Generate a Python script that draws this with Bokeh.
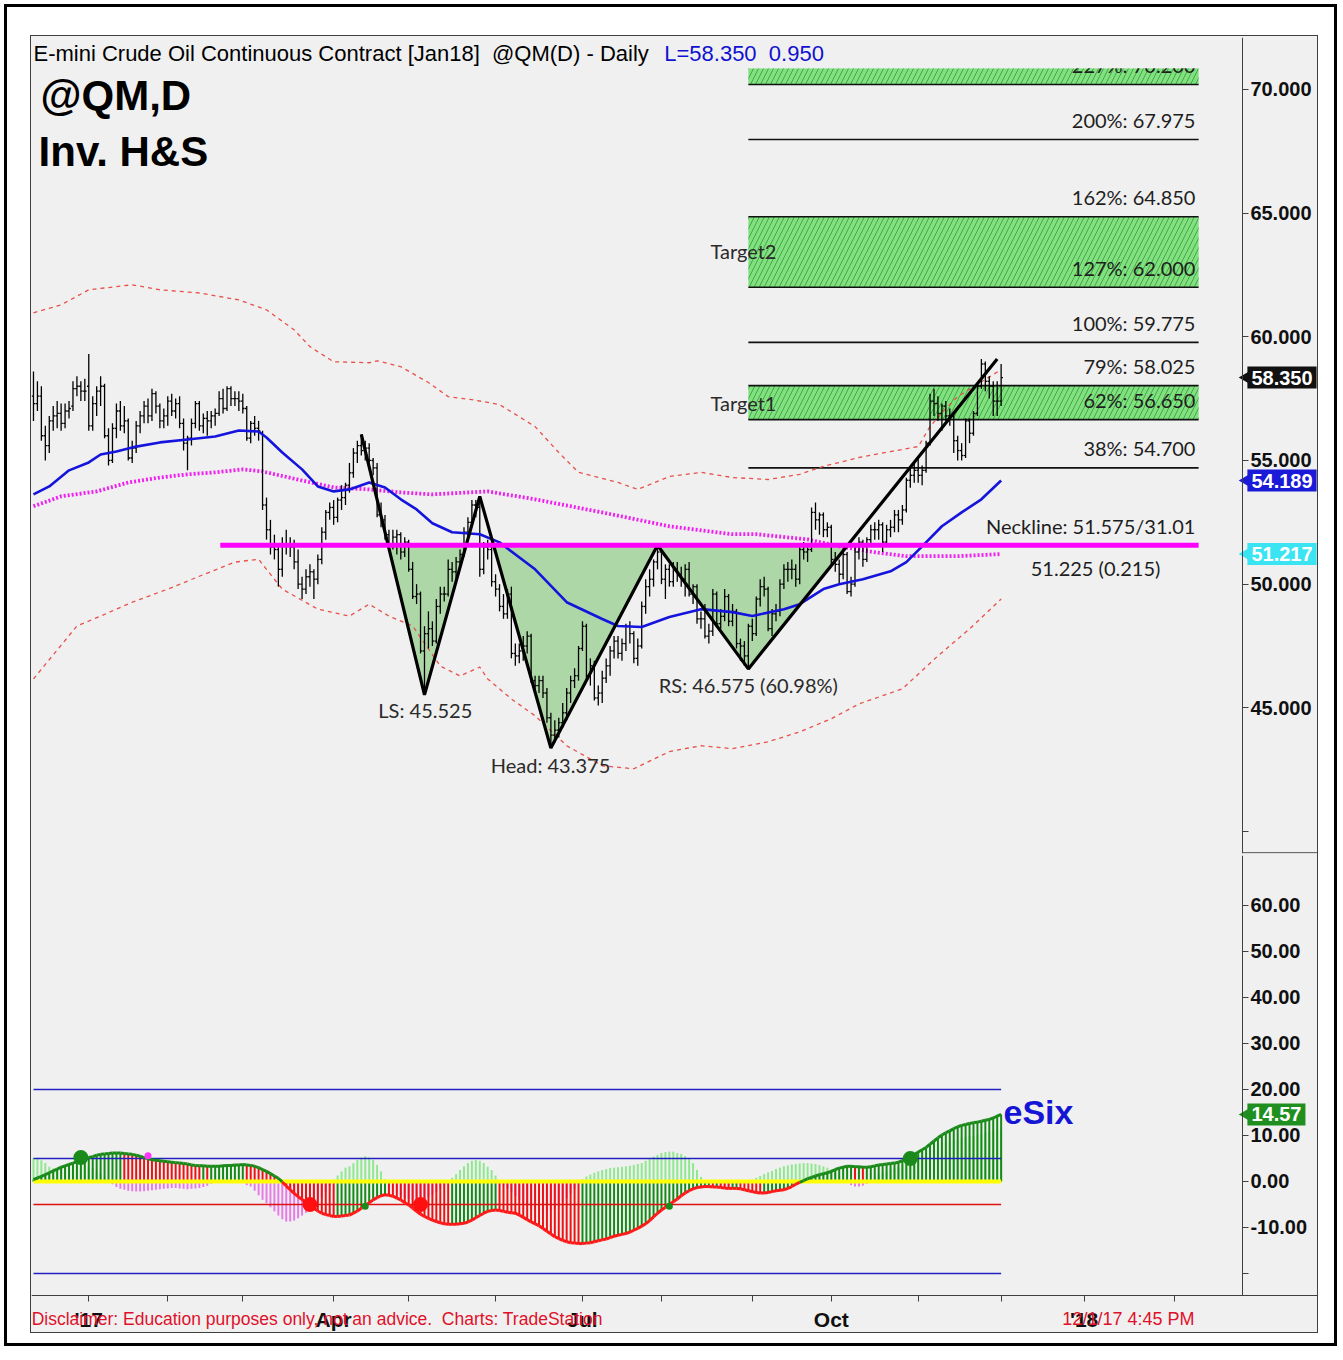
import math
from bokeh.plotting import figure
from bokeh.layouts import column
from bokeh.models import Range1d, FixedTicker, NumeralTickFormatter, Label, ColumnDataSource
from bokeh.core.properties import value
from bokeh.embed import file_html
from bokeh.resources import INLINE

# ---------------- data ----------------
# month starts as trading-bar index (bar 0 = 12 Dec 2016)
month_idx = [14, 34, 53, 76, 95, 117, 139, 159, 182, 202, 224, 245, 266, 289]
month_lbl = ["'17", "", "", "Apr", "", "", "Jul", "", "", "Oct", "", "", "'18", ""]

open_ = [57.6, 57.3, 57.6, 56.0, 55.6, 56.6, 56.8, 56.9, 56.5, 57.0, 57.2, 57.9, 58.0, 57.8,
         58.0, 56.4, 57.3, 57.8, 58.0, 56.0, 55.0, 56.3, 57.0, 56.4, 56.6, 55.1, 55.5, 56.4, 56.8, 57.2, 56.8, 57.7, 57.2, 56.6,
         56.8, 57.4, 57.0, 57.3, 56.5, 55.7, 55.9, 56.5, 57.3, 56.4, 56.7, 56.6, 56.8, 56.9, 57.5, 57.1, 57.9, 57.5, 57.5,
         57.4, 57.1, 55.9, 56.5, 56.3, 56.1, 53.2, 52.2, 51.5, 51.4, 50.6, 51.6, 51.6, 51.5, 50.9, 50.0, 49.8, 50.3, 50.5, 50.2, 51.0, 52.1, 52.9,
         53.1, 52.7, 53.4, 53.5, 54.0, 54.5, 55.3, 55.6, 55.4, 55.5, 55.0, 54.7, 52.8, 52.6, 52.0, 51.6, 51.9, 52.0, 51.3,
         51.7, 50.6, 49.5, 49.6, 47.3, 48.0, 48.2, 47.7, 49.1, 49.6, 49.6, 50.6, 50.5, 50.9, 51.2, 52.1, 52.5, 53.2, 53.1, 50.6, 51.5, 51.4,
         50.1, 49.8, 49.1, 48.8, 49.6, 47.2, 47.1, 47.3, 47.5, 47.9, 46.1, 45.9, 46.1, 45.6, 44.6, 43.9, 44.1, 44.4, 44.8, 45.6, 46.1, 46.3,
         47.4, 48.3, 46.3, 46.7, 45.4, 45.6, 46.2, 46.7, 47.3, 47.7, 47.2, 47.6, 48.3, 48.0, 47.0, 47.5, 49.1, 49.9, 50.2, 50.9,
         51.3, 50.2, 50.6, 50.1, 50.6, 50.4, 50.2, 50.6, 49.6, 49.9, 48.6, 48.6, 47.9, 48.1, 49.6, 48.4, 48.7, 49.5, 48.5, 48.9, 47.6, 47.5, 47.1,
         48.3, 48.0, 49.4, 49.9, 49.8, 48.2, 48.8, 48.9, 50.0, 50.6, 50.6, 50.6, 50.2, 51.4, 51.3, 51.4, 52.9, 52.6, 52.8, 52.2,
         52.3, 51.0, 50.8, 50.4, 51.2, 49.7, 50.0, 51.3, 51.7, 51.0, 51.8, 52.2, 52.2, 52.4, 51.7, 52.2, 52.3, 52.8, 52.6, 53.0, 54.2, 54.4,
         54.6, 54.4, 54.6, 55.7, 57.4, 57.3, 56.9, 57.2, 56.8, 56.8, 55.8, 55.4, 55.2, 56.6, 56.1, 56.9, 58.0, 58.9, 58.2, 58.0, 57.4,
         57.4]
high = [58.6, 58.2, 58.0, 56.4, 56.8, 57.2, 57.4, 57.3, 57.3, 57.4, 58.2, 58.4, 58.2, 58.3,
        59.3, 57.6, 58.0, 58.4, 58.1, 56.3, 56.5, 57.3, 57.4, 57.2, 56.7, 55.8, 56.6, 57.0, 57.4, 57.5, 57.9, 57.8, 57.3, 57.1,
        57.6, 57.7, 57.5, 57.6, 56.7, 56.0, 56.7, 57.4, 57.4, 56.9, 57.0, 57.0, 57.1, 57.8, 57.9, 58.0, 58.0, 57.8, 57.8,
        57.7, 57.2, 56.6, 56.8, 56.6, 56.2, 53.5, 52.6, 52.0, 51.6, 51.9, 52.2, 51.9, 51.8, 51.4, 50.3, 50.6, 50.8, 50.6, 51.2, 52.3, 53.0, 53.3,
        53.4, 53.5, 54.0, 54.1, 54.9, 55.5, 55.8, 56.05, 55.8, 55.7, 55.1, 54.9, 53.3, 52.8, 52.2, 52.2, 52.2, 52.1, 51.9,
        51.8, 50.9, 50.0, 49.7, 48.3, 48.9, 48.5, 49.4, 49.9, 49.9, 51.0, 50.9, 51.1, 51.4, 52.3, 52.7, 53.4, 53.4, 53.55, 51.7, 51.8, 51.5,
        50.4, 50.0, 49.6, 49.8, 49.9, 47.6, 47.6, 47.9, 48.1, 48.0, 46.3, 46.3, 46.3, 45.8, 44.8, 44.5, 44.6, 45.2, 45.8, 46.3, 46.6, 47.5,
        48.5, 48.4, 47.0, 46.9, 45.9, 46.5, 47.0, 47.5, 47.9, 47.9, 47.8, 48.4, 48.5, 48.1, 47.8, 49.3, 50.2, 50.6, 51.0, 51.575,
        51.4, 50.8, 50.8, 50.9, 50.9, 50.7, 50.8, 50.9, 50.0, 50.0, 48.9, 49.2, 48.4, 49.8, 49.7, 49.0, 49.8, 49.6, 49.2, 49.0, 47.8, 47.7, 48.4,
        48.6, 49.5, 50.2, 50.3, 49.9, 49.0, 49.2, 50.2, 50.8, 50.9, 51.0, 50.8, 51.6, 51.7, 51.6, 53.1, 53.3, 52.9, 52.9, 52.5,
        52.4, 51.3, 51.0, 51.4, 51.3, 50.3, 51.5, 51.9, 51.8, 51.9, 52.4, 52.5, 52.6, 52.5, 52.4, 52.6, 53.0, 53.0, 53.2, 54.3, 54.7, 54.9,
        55.1, 54.8, 55.8, 57.7, 57.9, 57.6, 57.3, 57.4, 57.1, 56.9, 56.0, 55.7, 56.7, 56.7, 57.0, 58.1, 59.1, 59.0, 58.4, 58.2, 58.2,
        58.9]
low = [56.6, 57.0, 55.8, 55.0, 55.3, 56.2, 56.3, 56.2, 56.3, 56.7, 57.0, 57.6, 57.4, 57.4,
       56.2, 56.2, 56.8, 57.2, 55.9, 54.8, 54.9, 55.9, 56.2, 56.1, 55.0, 54.9, 55.3, 56.1, 56.5, 56.5, 56.6, 56.9, 56.3, 56.3,
       56.4, 56.8, 56.7, 56.3, 55.4, 54.6, 55.6, 56.3, 56.2, 56.1, 56.0, 56.3, 56.4, 56.8, 56.9, 57.0, 57.2, 57.2, 57.0,
       56.9, 55.8, 55.7, 56.0, 55.8, 53.0, 51.8, 51.2, 51.0, 49.9, 50.3, 51.2, 51.1, 50.6, 49.8, 49.4, 49.6, 49.9, 49.4, 50.0, 50.8, 51.8, 52.6,
       52.4, 52.5, 53.0, 53.2, 53.7, 54.3, 54.9, 55.2, 55.0, 54.8, 54.4, 52.7, 52.3, 51.8, 51.4, 51.4, 51.2, 51.0, 51.1,
       50.5, 49.4, 49.2, 47.2, 45.525, 47.4, 47.5, 47.6, 48.8, 49.3, 49.5, 50.1, 50.2, 50.6, 51.1, 51.9, 52.3, 52.7, 50.3, 50.4, 51.0, 49.9,
       49.5, 48.9, 48.6, 48.6, 47.0, 46.7, 46.8, 46.9, 47.2, 46.0, 45.6, 45.6, 45.4, 44.4, 43.375, 43.6, 43.8, 44.2, 44.5, 45.2, 45.8, 46.1,
       47.3, 46.1, 45.9, 45.3, 45.1, 45.2, 46.0, 46.3, 47.0, 47.0, 46.9, 47.3, 47.6, 46.8, 46.7, 47.4, 48.8, 49.5, 49.9, 50.6,
       50.0, 49.4, 49.9, 49.9, 50.1, 49.9, 49.5, 49.5, 49.2, 48.4, 48.2, 47.8, 47.6, 47.9, 48.3, 48.2, 48.5, 48.3, 48.3, 47.4, 46.9, 46.7, 46.575,
       47.7, 47.9, 49.1, 49.5, 48.1, 47.9, 48.5, 48.7, 49.8, 50.1, 50.2, 49.9, 50.0, 51.0, 50.9, 51.3, 52.2, 52.0, 51.9, 51.9,
       50.8, 50.5, 50.0, 50.2, 49.6, 49.5, 49.9, 51.0, 50.7, 50.9, 51.6, 51.8, 51.8, 51.3, 51.5, 51.9, 52.1, 52.1, 52.4, 52.9, 53.9, 54.1,
       54.1, 54.0, 54.5, 55.6, 56.8, 56.6, 56.2, 56.6, 56.4, 55.3, 55.0, 55.0, 55.1, 55.7, 56.0, 56.8, 57.9, 57.8, 57.5, 56.8, 56.8,
       57.2]
close = [57.3, 57.6, 56.0, 55.6, 56.6, 56.8, 56.9, 56.5, 57.0, 57.1, 57.9, 58.0, 57.8, 57.8,
         56.4, 57.3, 57.8, 58.0, 56.0, 55.0, 56.3, 57.0, 56.4, 56.6, 55.1, 55.5, 56.4, 56.8, 57.2, 56.8, 57.7, 57.2, 56.6, 56.8,
         57.4, 57.0, 57.3, 56.5, 55.7, 55.9, 56.5, 57.3, 56.4, 56.7, 56.6, 56.8, 56.9, 57.5, 57.1, 57.9, 57.5, 57.5, 57.4,
         57.1, 55.9, 56.5, 56.3, 56.2, 53.2, 52.2, 51.5, 51.4, 50.6, 51.6, 51.6, 51.5, 50.9, 50.0, 49.8, 50.3, 50.5, 50.2, 51.0, 52.1, 52.9, 53.1,
         52.7, 53.4, 53.5, 54.0, 54.5, 55.3, 55.6, 55.4, 55.5, 55.0, 54.7, 52.8, 52.6, 52.0, 51.6, 51.9, 52.0, 51.3, 51.7,
         50.6, 49.5, 49.6, 47.3, 48.0, 48.2, 47.7, 49.1, 49.6, 49.6, 50.6, 50.5, 50.9, 51.2, 52.1, 52.5, 53.2, 53.1, 50.6, 51.5, 51.4, 50.1,
         49.8, 49.1, 48.8, 49.6, 47.2, 47.1, 47.3, 47.5, 47.9, 46.1, 45.9, 46.1, 45.6, 44.6, 43.9, 44.1, 44.4, 44.8, 45.6, 46.1, 46.3, 47.4,
         48.3, 46.3, 46.7, 45.4, 45.6, 46.2, 46.7, 47.3, 47.7, 47.2, 47.6, 48.3, 48.0, 47.0, 47.5, 49.1, 49.9, 50.2, 50.9, 51.3,
         50.2, 50.6, 50.1, 50.6, 50.4, 50.2, 50.6, 49.6, 49.9, 48.6, 48.6, 47.9, 48.1, 49.6, 48.4, 48.7, 49.5, 48.5, 48.9, 47.6, 47.5, 47.1, 48.3,
         48.0, 49.4, 49.9, 49.8, 48.2, 48.8, 48.9, 50.0, 50.6, 50.6, 50.6, 50.2, 51.4, 51.3, 51.4, 52.9, 52.6, 52.8, 52.2, 52.3,
         51.0, 50.8, 50.4, 51.2, 49.7, 50.0, 51.3, 51.7, 51.0, 51.8, 52.2, 52.2, 52.4, 51.7, 52.2, 52.3, 52.8, 52.6, 53.0, 54.2, 54.4, 54.6,
         54.4, 54.6, 55.7, 57.4, 57.3, 56.9, 57.2, 56.8, 56.8, 55.8, 55.4, 55.2, 56.6, 56.1, 56.9, 58.0, 58.9, 58.2, 58.0, 57.4, 57.4,
         58.35]

# moving averages / envelopes (bar index, price)
ma_fast_x = [0, 4, 9, 14, 17, 21, 26, 32, 39, 46, 52, 57, 59, 63, 68, 72, 76, 80, 85, 89, 93, 97, 101, 106, 113, 118, 127, 135, 144, 148, 154, 161, 169, 177, 182, 190, 194, 200, 204, 210, 217, 221, 225, 230, 235, 240, 245]
ma_fast_y = [53.63, 53.95, 54.60, 54.92, 55.24, 55.36, 55.56, 55.73, 55.85, 55.97, 56.21, 56.17, 55.93, 55.32, 54.64, 53.95, 53.75, 53.83, 54.11, 53.91, 53.43, 53.02, 52.46, 52.10, 52.02, 51.69, 50.60, 49.27, 48.59, 48.31, 48.27, 48.67, 48.99, 48.87, 48.71, 48.99, 49.19, 49.80, 50.00, 50.20, 50.52, 50.89, 51.53, 52.34, 52.90, 53.43, 54.189]
ma_slow_x = [0, 7, 16, 24, 32, 39, 46, 53, 58, 59, 68, 76, 85, 93, 101, 115, 127, 144, 161, 177, 183, 196, 204, 213, 221, 234, 245]
ma_slow_y = [53.15, 53.55, 53.75, 54.11, 54.31, 54.44, 54.52, 54.64, 54.56, 54.52, 54.19, 53.91, 53.83, 53.71, 53.63, 53.75, 53.43, 52.90, 52.34, 52.02, 52.02, 51.81, 51.53, 51.29, 51.13, 51.13, 51.217]
upper_x = [0, 7, 14, 25, 32, 42, 52, 59, 66, 70, 76, 85, 87, 93, 100, 105, 111, 118, 127, 133, 138, 148, 153, 161, 169, 177, 186, 194, 200, 209, 217, 224, 227, 230, 234, 238, 245]
upper_y = [60.97, 61.29, 61.90, 62.10, 61.90, 61.77, 61.49, 61.09, 60.28, 59.60, 58.99, 58.95, 59.03, 58.79, 58.15, 57.58, 57.46, 57.26, 56.37, 55.32, 54.52, 54.11, 53.83, 54.35, 54.52, 54.31, 54.23, 54.44, 54.76, 55.12, 55.36, 55.56, 56.37, 56.94, 57.58, 57.98, 58.67]
lower_x = [0, 11, 17, 25, 34, 42, 51, 57, 59, 63, 72, 80, 85, 90, 96, 103, 108, 113, 115, 121, 127, 135, 144, 152, 161, 169, 177, 186, 194, 202, 209, 220, 229, 237, 245]
lower_y = [46.17, 48.31, 48.71, 49.27, 49.80, 50.32, 50.89, 51.01, 50.60, 49.80, 48.99, 48.71, 49.19, 48.71, 48.31, 46.69, 46.29, 46.65, 46.17, 45.36, 44.68, 43.47, 42.66, 42.54, 43.23, 43.47, 43.35, 43.63, 44.03, 44.56, 45.16, 45.77, 47.10, 48.19, 49.40]

# inverse head & shoulders pivots
hs_x = [83, 99, 113, 131, 158, 181, 244]
hs_y = [56.05, 45.525, 53.55, 43.375, 51.575, 46.575, 59.1]
neckline = 51.575

# Fibonacci projection levels
fib_levels = [70.2, 67.975, 64.85, 62.0, 59.775, 58.025, 56.65, 54.7]
fib_texts = ["227%: 70.200", "200%: 67.975", "162%: 64.850", "127%: 62.000",
             "100%: 59.775", "79%: 58.025", "62%: 56.650", "38%: 54.700"]
target_lo = [70.2, 62.0, 56.65]
target_hi = [70.85, 64.85, 58.025]

# last values shown on the price scale
last_vals = [58.35, 54.189, 51.217]
last_txt = ["58.350", "54.189", "51.217"]

# eSix indicator
esix_line = [0.4, 0.8, 1.1, 1.5, 1.9, 2.3, 2.7, 3.1, 3.4, 3.7,
             4.0, 4.3, 4.7, 5.0, 5.2, 5.4, 5.7, 5.9, 6.0, 6.1,
             6.2, 6.2, 6.2, 6.1, 6.0, 5.9, 5.7, 5.5, 5.2, 5.0,
             4.7, 4.6, 4.5, 4.4, 4.3, 4.2, 4.1, 4.0, 3.9, 3.8,
             3.6, 3.5, 3.4, 3.4, 3.3, 3.3, 3.3, 3.3, 3.4, 3.5,
             3.5, 3.6, 3.6, 3.7, 3.6, 3.5, 3.3, 3.0, 2.6, 2.2,
             1.7, 1.2, 0.7, -0.1, -1.0, -1.8, -2.6, -3.3, -3.9, -4.5,
             -5.2, -5.8, -6.4, -6.9, -7.2, -7.4, -7.6, -7.6, -7.5, -7.4,
             -7.3, -6.9, -6.4, -5.8, -5.2, -4.6, -4.0, -3.5, -3.1, -2.9,
             -3.0, -3.2, -3.6, -4.0, -4.6, -5.1, -5.8, -6.5, -7.1, -7.6,
             -8.0, -8.4, -8.7, -9.0, -9.2, -9.3, -9.3, -9.3, -9.2, -9.1,
             -8.8, -8.4, -7.9, -7.4, -6.9, -6.5, -6.3, -6.2, -6.3, -6.5,
             -6.7, -6.8, -6.9, -7.3, -7.8, -8.3, -8.8, -9.2, -9.6, -10.2,
             -10.8, -11.4, -12.0, -12.4, -12.8, -13.1, -13.3, -13.4, -13.5, -13.5,
             -13.4, -13.3, -13.1, -12.9, -12.7, -12.5, -12.2, -11.9, -11.7, -11.5,
             -11.3, -11.0, -10.6, -10.2, -9.7, -9.2, -8.5, -7.7, -6.9, -6.2,
             -5.6, -5.0, -4.4, -3.8, -3.1, -2.5, -2.0, -1.6, -1.3, -1.2,
             -1.1, -1.1, -1.2, -1.2, -1.3, -1.4, -1.5, -1.5, -1.5, -1.6,
             -1.8, -2.0, -2.2, -2.4, -2.5, -2.5, -2.4, -2.2, -2.0, -1.9,
             -1.8, -1.5, -1.1, -0.6, -0.2, 0.2, 0.6, 0.9, 1.2, 1.5,
             1.7, 1.9, 2.2, 2.6, 2.9, 3.1, 3.3, 3.3, 3.2, 3.2,
             3.1, 3.1, 3.2, 3.4, 3.6, 3.7, 3.8, 3.9, 4.0, 4.2,
             4.5, 4.9, 5.3, 5.8, 6.4, 6.9, 7.4, 8.1, 8.8, 9.5,
             10.1, 10.6, 11.0, 11.5, 11.9, 12.2, 12.4, 12.6, 12.8, 12.9,
             13.1, 13.3, 13.5, 13.8, 14.2, 14.57]
esix_hist = [5.1, 5.0, 4.6, 4.0, 3.2, 2.8, 2.6, 2.6, 2.8, 3.0,
             3.3, 3.5, 3.6, 3.5, 3.2, 2.8, 2.2, 1.6, 0.9, 0.2,
             -0.6, -1.2, -1.6, -1.8, -2.0, -2.1, -2.2, -2.2, -2.1, -2.0,
             -1.9, -1.8, -1.7, -1.6, -1.5, -1.4, -1.4, -1.5, -1.6, -1.7,
             -1.6, -1.5, -1.4, -1.2, -0.9, -0.5, 0.2, 0.9, 1.5, 1.8,
             1.6, 1.2, 0.6, -0.1, -0.8, -1.1, -2.0, -3.0, -4.0, -4.7,
             -5.6, -6.5, -7.4, -8.2, -8.7, -8.7, -8.5, -8.0, -7.4, -6.8,
             -6.0, -5.2, -4.3, -3.4, -2.3, -1.0, 0.4, 1.3, 2.2, 3.0,
             3.3, 4.0, 4.7, 5.2, 5.5, 5.2, 4.7, 3.6, 2.2, 0.5,
             -0.8, -1.6, -2.4, -3.0, -3.5, -3.8, -4.0, -4.1, -4.0, -3.8,
             -3.4, -2.9, -2.3, -1.6, -0.8, 0.0, 0.8, 1.6, 2.5, 3.3,
             4.0, 4.5, 4.7, 4.5, 4.0, 3.2, 2.5, 1.3, 0.0, -0.8,
             -1.6, -2.4, -3.2, -4.0, -4.8, -5.5, -6.0, -6.3, -6.5, -6.6,
             -6.6, -6.4, -6.0, -5.4, -4.6, -3.6, -2.6, -1.6, -0.6, 0.5,
             1.1, 1.5, 1.9, 2.2, 2.5, 2.7, 2.9, 3.0, 3.1, 3.2,
             3.3, 3.4, 3.6, 3.8, 4.0, 4.5, 5.0, 5.4, 5.8, 6.2,
             6.4, 6.5, 6.5, 6.2, 6.0, 5.5, 5.0, 4.0, 2.5, 1.0,
             -0.3, -0.6, -0.8, -0.9, -1.0, -1.0, -1.0, -0.9, -0.8, -0.6,
             -0.4, -0.1, 0.4, 0.8, 1.2, 1.6, 2.0, 2.3, 2.7, 3.0,
             3.3, 3.5, 3.7, 3.8, 3.9, 4.0, 4.0, 3.9, 3.8, 3.6,
             3.3, 3.0, 2.6, 2.0, 1.2, 0.4, -0.3, -0.8, -1.1, -1.1,
             -0.9, -0.5, 0.2, 0.8, 1.4, 1.9, 2.3, 2.6, 2.9, 3.2,
             3.6, 4.2, 4.8, 5.5, 6.0, 6.5, 7.0, 7.4, 7.8, 8.1,
             8.4, 8.6, 8.8, 9.0, 9.2, 9.4, 9.6, 9.8, 10.0, 10.2,
             10.4, 10.6, 10.8, 11.0, 11.2, 11.4]
esix_levels = [20, 5, 0, -5, -20]
dot_x = [12, 29, 70, 84, 98, 161, 222]
dot_y = [5.2, 5.6, -5.0, -5.4, -5.0, -5.4, 5.0]
dot_big = [True, False, True, False, True, False, True]
dot_up = [True, None, False, True, False, True, True]

# ---------------- styling ----------------
BG = "#f0f0f0"
SANS = "Liberation Sans"
NB = "\u00a0"
X_LO, X_HI = -0.5, 325.1          # frame covers plot + price-scale strip
X_AXIS = 306.08                   # location of the price scale line
P_LO, P_HI = 39.113, 72.097
I_LO, I_HI = -32.83, 70.87
I_AXIS = -24.78                   # location of the time axis line
FIB_X0, FIB_X1 = 181, 295
TAG_X = 307.35

n = len(close)
bar_x = list(range(n))


def style_axis(a, size="20px"):
    a.major_tick_out = 6
    a.major_tick_in = 0
    a.minor_tick_out = 0
    a.minor_tick_in = 0
    a.major_label_text_font = SANS
    a.major_label_text_font_style = "bold"
    a.major_label_text_font_size = size
    a.major_label_text_color = "#101010"
    a.axis_line_color = "#404040"
    a.major_tick_line_color = "#404040"


p = figure(title=None, frame_width=1286, frame_height=816,
           x_range=Range1d(X_LO, X_HI), y_range=Range1d(P_LO, P_HI),
           output_backend="svg", toolbar_location=None,
           x_axis_location=None, y_axis_location="right",
           min_border_left=0, min_border_right=0, min_border_top=1, min_border_bottom=2,
           background_fill_color=BG, border_fill_color=BG, outline_line_color=None)
p.grid.visible = False

# target boxes (hatched)
p.quad(left=[FIB_X0] * 3, right=[FIB_X1] * 3, bottom=target_lo, top=target_hi,
       fill_color="#7fe27f", line_color=None, hatch_pattern="/", hatch_color="#1e6e1e",
       hatch_alpha=0.55, hatch_scale=10, hatch_weight=1)
p.segment(x0=[FIB_X0] * len(fib_levels), x1=[FIB_X1] * len(fib_levels), y0=fib_levels, y1=fib_levels,
          line_color="#111111", line_width=1.6)
p.text(x=[294.2] * len(fib_levels), y=[v + 0.3 for v in fib_levels], text=fib_texts,
       text_font=value("Lato"), text_font_size="20px", text_align="right", text_baseline="bottom",
       text_color="#1e1e1e")
# mask (title strip clips the top target box)
p.quad(left=[FIB_X0 - 1], right=[FIB_X1 + 1], bottom=[70.85], top=[P_HI], fill_color=BG, line_color=None)

# inverse H&S shaded area below neckline
fx, fy = [], []
for i in range(len(hs_x) - 1):
    x0, y0, x1, y1 = hs_x[i], hs_y[i], hs_x[i + 1], hs_y[i + 1]
    fx.append(x0); fy.append(min(y0, neckline))
    if (y0 - neckline) * (y1 - neckline) < 0:
        t = (neckline - y0) / (y1 - y0)
        fx.append(x0 + t * (x1 - x0)); fy.append(neckline)
fx.append(hs_x[-1]); fy.append(min(hs_y[-1], neckline))
p.varea(x=fx, y1=fy, y2=[neckline] * len(fx), fill_color="#a6d49e", fill_alpha=0.9)

# envelopes and averages
p.line(upper_x, upper_y, line_color="#e8504a", line_width=1.3, line_dash="4 4")
p.line(lower_x, lower_y, line_color="#e8504a", line_width=1.3, line_dash="4 4")
p.line(ma_slow_x, ma_slow_y, line_color="#f020f0", line_width=3.8, line_dash="2 2")

# OHLC bars
src = ColumnDataSource(dict(x=bar_x, xl=[i - 0.45 for i in bar_x], xr=[i + 0.45 for i in bar_x],
                            o=open_, h=high, l=low, c=close))
p.segment(x0="x", y0="l", x1="x", y1="h", source=src, line_color="black", line_width=1.3)
p.segment(x0="xl", y0="o", x1="x", y1="o", source=src, line_color="black", line_width=1.3)
p.segment(x0="x", y0="c", x1="xr", y1="c", source=src, line_color="black", line_width=1.3)

p.line(ma_fast_x, ma_fast_y, line_color="#1414dc", line_width=2.6)

# pattern lines
p.line(hs_x, hs_y, line_color="black", line_width=3.2)
p.segment(x0=[47.3], x1=[FIB_X1], y0=[neckline], y1=[neckline], line_color="#ff00ff", line_width=5)

p.text(x=[171.4, 171.4], y=[63.47, 57.34], text=["Target2", "Target1"], text_font=value("Lato"),
       text_font_size="20px", text_align="left", text_baseline="middle", text_color="#2a2a2a")
p.text(x=[99.2, 130.9, 181.0], y=[44.92, 42.70, 45.93],
       text=["LS: 45.525", "Head: 43.375", "RS: 46.575 (60.98%)"], text_font=value("Lato"),
       text_font_size="20px", text_align="center", text_baseline="middle", text_color="#2a2a2a")
p.text(x=[294.2], y=[neckline + 0.3], text=["Neckline: 51.575/31.01"], text_font=value("Lato"),
       text_font_size="20px", text_align="right", text_baseline="bottom", text_color="#1e1e1e")
p.text(x=[268.9], y=[50.65], text=["51.225 (0.215)"], text_font=value("Lato"),
       text_font_size="20px", text_align="center", text_baseline="middle", text_color="#1e1e1e")

# separator of the two scales
p.segment(x0=[X_AXIS], x1=[X_HI], y0=[P_LO + 0.03], y1=[P_LO + 0.03], line_color="#404040", line_width=1)

p.add_layout(Label(x=0.0, y=71.45, text="E-mini Crude Oil Continuous Contract [Jan18]" + NB + " @QM(D) - Daily",
                   text_font=SANS, text_font_size="22px", text_baseline="middle", text_color="black"))
p.add_layout(Label(x=159.7, y=71.45, text="L=58.350" + NB + " 0.950", text_font=SANS,
                   text_font_size="22px", text_baseline="middle", text_color="#1010d0"))
p.add_layout(Label(x=1.8, y=70.69, text="@QM,D", text_font=SANS, text_font_style="bold",
                   text_font_size="42px", text_baseline="top", text_color="black"))
p.add_layout(Label(x=1.3, y=68.43, text="Inv. H&S", text_font=SANS, text_font_style="bold",
                   text_font_size="42px", text_baseline="top", text_color="black"))

ax = p.yaxis[0]
ax.fixed_location = X_AXIS
ax.bounds = (P_LO, P_HI)
ax.ticker = FixedTicker(ticks=[40, 45, 50, 55, 60, 65, 70], minor_ticks=[])
ax.formatter = NumeralTickFormatter(format="0.000")
ax.major_label_overrides = {40: ""}
ax.major_label_standoff = 2
style_axis(ax)

box_col = ["#111111", "#1a1ad8", "#3ae4f2"]
p.scatter(x=[306.75] * 3, y=last_vals, marker="triangle", angle=math.pi / 2, size=11,
          fill_color=box_col, line_color=None)
for val, txt, col in zip(last_vals, last_txt, box_col):
    p.add_layout(Label(x=TAG_X, y=val, text=txt, text_font=SANS, text_font_style="bold",
                       text_font_size="20px", text_baseline="middle", text_color="white",
                       background_fill_color=col, padding=4))

# ---------------- indicator ----------------
q = figure(title=None, frame_width=1286, frame_height=477,
           x_range=p.x_range, y_range=Range1d(I_LO, I_HI),
           output_backend="svg", toolbar_location=None,
           x_axis_location="below", y_axis_location="right",
           min_border_left=0, min_border_right=0, min_border_top=0, min_border_bottom=0,
           background_fill_color=BG, border_fill_color=BG, outline_line_color=None)
q.grid.visible = False

light_col = ["#8fe88f" if v >= 0 else "#e77ae7" for v in esix_hist]
dark_col = ["#138a13" if (i == 0 or esix_line[i] >= esix_line[i - 1]) else "#ee1111" for i in range(n)]
q.vbar(x=bar_x, top=esix_hist, bottom=0, width=0.5, fill_color=light_col, line_color=None)
q.vbar(x=bar_x, top=esix_line, bottom=0, width=0.5, fill_color=dark_col, line_color=None)

lvl_col = ["#2020c0", "#2020c0", "#ffff00", "#e01010", "#2020c0"]
lvl_w = [1.5, 1.5, 4, 1.5, 1.5]
q.segment(x0=[0] * 5, x1=[245] * 5, y0=esix_levels, y1=esix_levels, line_color=lvl_col, line_width=lvl_w)

seg_col = ["#1a8a1a" if (esix_line[i] + esix_line[i + 1]) >= 0 else "#ff1818" for i in range(n - 1)]
q.segment(x0=bar_x[:-1], x1=bar_x[1:], y0=esix_line[:-1], y1=esix_line[1:], line_color=seg_col, line_width=3)

d_col = ["#ff33ff" if u is None else ("#1a8a1a" if u else "#ff1010") for u in dot_up]
d_size = [15 if b else 7 for b in dot_big]
q.scatter(x=dot_x, y=dot_y, size=d_size, fill_color=d_col, line_color=None)

q.add_layout(Label(x=245.6, y=15.0, text="eSix", text_font=SANS, text_font_style="bold",
                   text_font_size="34px", text_baseline="middle", text_color="#1515d5"))

qa = q.yaxis[0]
qa.fixed_location = X_AXIS
qa.bounds = (I_AXIS, I_HI)
qa.ticker = FixedTicker(ticks=[-20, -10, 0, 10, 20, 30, 40, 50, 60], minor_ticks=[])
qa.formatter = NumeralTickFormatter(format="0.00")
qa.major_label_overrides = {-20: ""}
qa.major_label_standoff = 2
style_axis(qa)
q.scatter(x=[306.75], y=[esix_line[-1]], marker="triangle", angle=math.pi / 2, size=11,
          fill_color="#1f8f1f", line_color=None)
q.add_layout(Label(x=TAG_X, y=esix_line[-1], text="14.57", text_font=SANS, text_font_style="bold",
                   text_font_size="20px", text_baseline="middle", text_color="white",
                   background_fill_color="#1f8f1f", padding=4))

xa = q.xaxis[0]
xa.fixed_location = I_AXIS
xa.ticker = FixedTicker(ticks=month_idx, minor_ticks=[])
xa.major_label_overrides = {k: v for k, v in zip(month_idx, month_lbl)}
xa.major_label_standoff = 7
style_axis(xa, "21px")

q.add_layout(Label(x=-0.45, y=-29.8, text="Disclaimer: Education purposes only, not an advice." + NB + " Charts: TradeStation",
                   text_font=SANS, text_font_size="17.5px", text_baseline="middle", text_color="#e0102a"))
q.add_layout(Label(x=260.5, y=-29.8, text="12/1/17 4:45 PM", text_font=SANS, text_font_size="18px",
                   text_baseline="middle", text_color="#e0102a"))

inner = column(p, q, spacing=0, styles={"border": "1px solid #404040", "background-color": BG})
page = column(inner, styles={"border": "3px solid #000000", "padding": "28px 16px 10px 23px",
                             "margin": "4px 0px 0px 4px", "background-color": "white"})

open("out.html", "w").write(file_html(page, INLINE))
